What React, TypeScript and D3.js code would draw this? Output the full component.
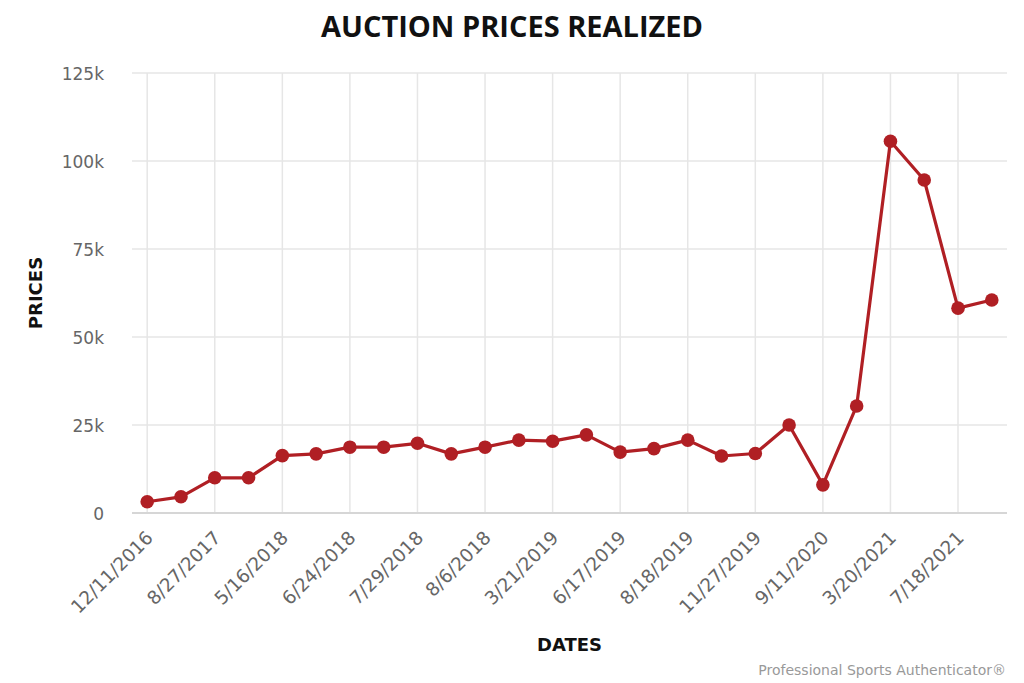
import React from "react";
import * as d3 from "d3";

const dateLabels = [
  "12/11/2016", "8/27/2017", "5/16/2018", "6/24/2018", "7/29/2018", "8/6/2018",
  "3/21/2019", "6/17/2019", "8/18/2019", "11/27/2019", "9/11/2020", "3/20/2021", "7/18/2021",
];

const prices = [
  3200, 4600, 10000, 10000, 16300, 16800, 18700, 18700, 19800, 16800, 18700, 20700, 20400,
  22200, 17300, 18300, 20700, 16200, 16900, 25000, 8000, 30400, 105600, 94600, 58200, 60500,
];

const yTicks = [0, 25000, 50000, 75000, 100000, 125000];

const W = 1024;
const H = 683;
const left = 132;
const right = 1007;
const top = 73;
const bottom = 513;
const lineColor = "#b01f24";
const titleFont = "'Open Sans', sans-serif";
const font = "'DejaVu Sans', sans-serif";

export default function App() {
  const idx = prices.map((_, i) => i);
  const x = d3.scalePoint<number>().domain(idx).range([left, right]).padding(0.45);
  const y = d3.scaleLinear().domain([0, 125000]).range([bottom, top]);
  const line = d3
    .line<number>()
    .x((_, i) => x(i) as number)
    .y((d) => y(d));
  const fmt = (v: number) => (v === 0 ? "0" : `${v / 1000}k`);
  const tickIdx = dateLabels.map((_, i) => i * 2);

  return (
    <svg
      width={W}
      height={H}
      style={{ position: "absolute", left: 0, top: 0, background: "#fff" }}
      fontFamily={font}
    >
      <text x={W / 2} y={37} textAnchor="middle" fontSize={29} fontWeight="bold" fill="#111" fontFamily={titleFont}>
        AUCTION PRICES REALIZED
      </text>

      {yTicks.map((t) => (
        <line key={"h" + t} x1={left} x2={right} y1={y(t)} y2={y(t)} stroke="#e6e6e6" strokeWidth={1.5} />
      ))}
      {tickIdx.map((i) => (
        <line key={"v" + i} x1={x(i)} x2={x(i)} y1={top} y2={bottom} stroke="#e6e6e6" strokeWidth={1.5} />
      ))}
      <line x1={left} x2={right} y1={bottom} y2={bottom} stroke="#d6d6d6" strokeWidth={2} />

      {yTicks.map((t) => (
        <text key={"yl" + t} x={104} y={y(t) + 7} textAnchor="end" fontSize={17} fill="#666">
          {fmt(t)}
        </text>
      ))}

      {tickIdx.map((i, k) => {
        const px = (x(i) as number) + 7;
        const py = 539;
        return (
          <text
            key={"xl" + i}
            x={px}
            y={py}
            textAnchor="end"
            fontSize={18.5}
            fill="#666"
            transform={`rotate(-45 ${px} ${py})`}
          >
            {dateLabels[k]}
          </text>
        );
      })}

      <text
        x={42}
        y={(top + bottom) / 2}
        textAnchor="middle"
        fontSize={18}
        fontWeight="bold"
        fill="#111"
        transform={`rotate(-90 42 ${(top + bottom) / 2})`}
      >
        PRICES
      </text>
      <text x={(left + right) / 2} y={651} textAnchor="middle" fontSize={18} fontWeight="bold" fill="#111">
        DATES
      </text>

      <path d={line(prices) || ""} fill="none" stroke={lineColor} strokeWidth={3.2} strokeLinejoin="round" />
      {prices.map((p, i) => (
        <circle key={"c" + i} cx={x(i)} cy={y(p)} r={6.8} fill={lineColor} />
      ))}

      <text x={1006} y={675} textAnchor="end" fontSize={14} fill="#999">
        Professional Sports Authenticator®
      </text>
    </svg>
  );
}
